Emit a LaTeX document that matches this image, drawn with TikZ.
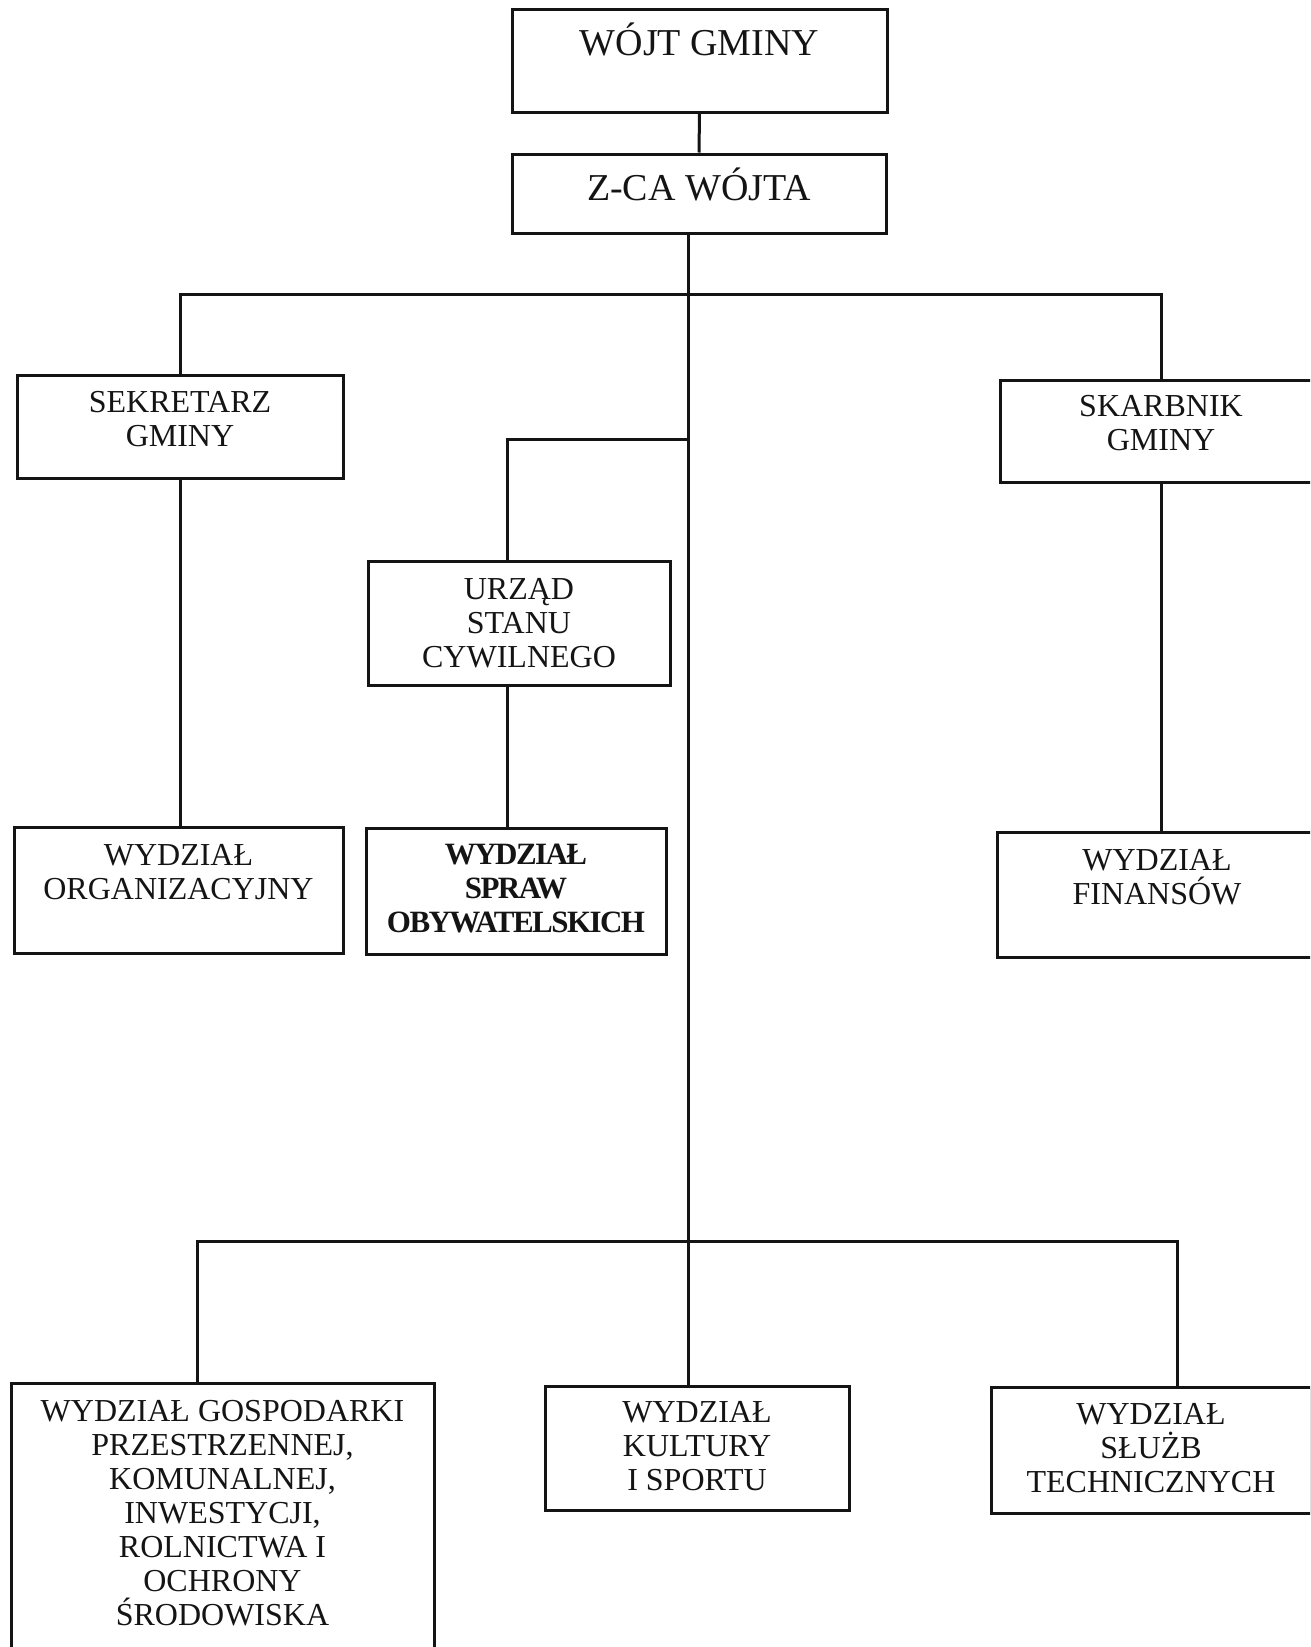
\documentclass[tikz,border=0pt]{standalone}
\usepackage{fontspec}
\setmainfont{Liberation Serif}
\usepackage{tikz}
\usetikzlibrary{positioning,calc}
\definecolor{GminaInk}{HTML}{141414}
\tikzset{
  unit/.style={draw=GminaInk,line width=3pt,inner sep=0pt},
  caption/.style={align=center,inner sep=0pt,text=GminaInk,
    font=\fontsize{32}{34}\selectfont},
  headcap/.style={caption,font=\fontsize{38}{40}\selectfont},
  heavycap/.style={caption,font=\fontsize{31}{34}\selectfont\bfseries\addfontfeature{LetterSpace=-5}},
  link/.style={draw=GminaInk,line width=3pt}
}

\begin{document}
\begin{tikzpicture}[x=1pt,y=-1pt]
  \useasboundingbox (0,0) rectangle (1310,1647);
  \clip (0,0) rectangle (1310,1647);
  % boxes
  \node[unit,minimum width=375pt,minimum height=103pt] (wojt) at (699.5,60.5) {};
  \node[unit,minimum width=374pt,minimum height=79pt] (zca) at (699,193.5) {};
  \node[unit,minimum width=326pt,minimum height=103pt] (sek) at (180,426.5) {};
  \node[unit,minimum width=322pt,minimum height=102pt] (skarb) at (1161,431) {};
  \node[unit,minimum width=302pt,minimum height=124pt] (usc) at (519,623) {};
  \node[unit,minimum width=329pt,minimum height=126pt] (wo) at (178.5,890) {};
  \node[unit,minimum width=300pt,minimum height=126pt] (wso) at (516,891) {};
  \node[unit,minimum width=320pt,minimum height=125pt] (fin) at (1157,894.5) {};
  \node[unit,minimum width=423pt,minimum height=317pt] (wgp) at (222.5,1541.5) {};
  \node[unit,minimum width=304pt,minimum height=124pt] (kult) at (697,1448) {};
  \node[unit,minimum width=320pt,minimum height=126pt] (slu) at (1151,1450) {};
  % texts
  \node[headcap,below=15pt of wojt.north] (wojt-t) {WÓJT GMINY};
  \node[headcap,below=15pt of zca.north] (zca-t) {Z-CA WÓJTA};
  \node[caption,below=18pt of sek.north] (sek-t) {SEKRETARZ\\GMINY};
  \node[caption,below=17pt of skarb.north] (skarb-t) {SKARBNIK\\GMINY};
  \node[caption,below=19pt of usc.north] (usc-t) {URZĄD\\STANU\\CYWILNEGO};
  \node[caption,below=19pt of wo.north] (wo-t) {WYDZIAŁ\\ORGANIZACYJNY};
  \node[heavycap,below=17pt of wso.north] (wso-t) {WYDZIAŁ\\SPRAW\\OBYWATELSKICH};
  \node[caption,below=19pt of fin.north] (fin-t) {WYDZIAŁ\\FINANSÓW};
  \node[caption,below=19pt of wgp.north] (wgp-t) {WYDZIAŁ GOSPODARKI\\PRZESTRZENNEJ,\\KOMUNALNEJ,\\INWESTYCJI,\\ROLNICTWA I\\OCHRONY\\ŚRODOWISKA};
  \node[caption,below=17pt of kult.north] (kult-t) {WYDZIAŁ\\KULTURY\\I SPORTU};
  \node[caption,below=18pt of slu.north] (slu-t) {WYDZIAŁ\\SŁUŻB\\TECHNICZNYCH};
  % lines
  \coordinate (spine) at (688,0);
  \coordinate (topbus) at (0,294);
  \coordinate (uscbus) at (0,439);
  \coordinate (lowbus) at (0,1241);
  \coordinate (uscdrop) at (507,0);
  \coordinate (wgpdrop) at (197,0);
  \coordinate (sludrop) at (1177,0);
  \draw[link] (wojt.south) -- (zca.north);
  \draw[link] (zca.south -| spine) -- (kult.north -| spine);
  \draw[link] (sek.north) |- (topbus -| skarb.north) -- (skarb.north);
  \draw[link] (sek.south) -- (sek.south |- wo.north);
  \draw[link] (skarb.south) -- (skarb.south |- fin.north);
  \draw[link] (uscbus -| spine) -| (usc.north -| uscdrop);
  \draw[link] (usc.south -| uscdrop) -- (wso.north -| uscdrop);
  \draw[link] (wgp.north -| wgpdrop) |- (lowbus -| sludrop) -- (slu.north -| sludrop);
\end{tikzpicture}
\end{document}
